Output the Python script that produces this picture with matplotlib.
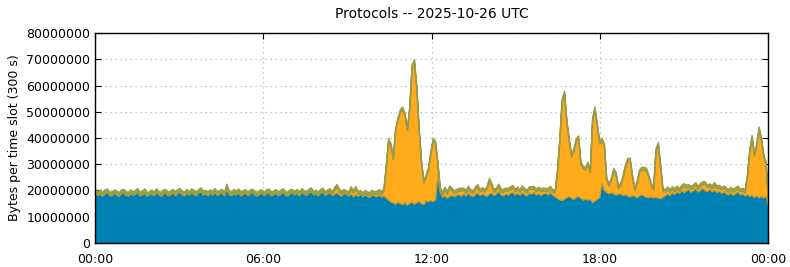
# Protocols stacked area chart (bytes per 300 s slot)
import numpy as np
import matplotlib
matplotlib.use("Agg")
import matplotlib.pyplot as plt

# values in millions of bytes, one row per hour (12 slots of 5 minutes)
blue = [
    [19.2, 18.3, 18.9, 18.0, 18.9, 19.4, 18.3, 18.1, 19.1, 18.6, 17.9, 18.9],
    [19.3, 18.4, 18.0, 19.0, 18.3, 18.8, 19.5, 18.1, 18.6, 19.2, 18.0, 18.5],
    [19.0, 18.2, 19.4, 18.6, 17.9, 18.9, 19.3, 18.1, 18.5, 19.4, 18.2, 19.0],
    [19.6, 18.6, 18.1, 19.2, 18.4, 19.5, 18.7, 18.2, 19.3, 19.7, 18.5, 18.9],
    [18.2, 19.1, 18.5, 19.5, 18.3, 18.9, 19.3, 18.1, 20.8, 18.7, 18.2, 19.1],
    [18.5, 19.3, 18.1, 18.8, 19.2, 18.2, 18.9, 19.5, 18.4, 18.0, 18.8, 19.2],
    [18.2, 19.0, 19.3, 18.1, 18.6, 19.2, 18.2, 18.8, 19.5, 18.4, 18.1, 19.0],
    [19.3, 18.5, 19.1, 18.2, 19.6, 18.7, 18.3, 19.2, 19.7, 18.5, 18.9, 18.2],
    [19.1, 19.6, 18.3, 18.9, 19.4, 18.2, 18.8, 19.3, 18.5, 18.0, 19.1, 18.7],
    [18.1, 18.9, 17.8, 18.6, 18.0, 18.7, 17.8, 18.5, 17.9, 17.6, 18.5, 18.1],
    [17.8, 18.5, 17.6, 18.3, 17.3, 16.5, 15.8, 15.5, 15.0, 15.8, 15.2, 14.8],
    [15.5, 14.6, 15.3, 15.8, 14.9, 15.6, 16.0, 15.2, 14.8, 16.3, 15.9, 16.4],
    [16.0, 16.6, 26.5, 19.5, 17.6, 18.2, 17.3, 17.9, 18.4, 17.8, 18.3, 18.6],
    [18.0, 18.9, 18.1, 19.1, 18.3, 17.8, 18.7, 19.2, 18.2, 18.9, 18.4, 18.0],
    [18.8, 19.3, 18.3, 18.9, 19.8, 18.5, 18.1, 19.0, 18.4, 19.2, 19.4, 18.5],
    [19.1, 18.4, 19.3, 18.6, 18.2, 19.2, 18.8, 19.4, 18.5, 19.0, 18.3, 18.9],
    [19.2, 18.5, 19.4, 18.4, 17.8, 17.2, 16.6, 16.4, 16.9, 17.5, 17.9, 17.3],
    [16.8, 17.6, 17.9, 17.2, 16.4, 17.0, 16.5, 16.8, 15.6, 16.2, 16.9, 17.4],
    [22.9, 20.2, 19.4, 18.9, 19.4, 18.9, 18.4, 18.8, 18.9, 18.3, 18.6, 18.1],
    [17.7, 18.3, 17.9, 17.5, 18.2, 18.6, 18.0, 17.6, 17.5, 17.8, 17.3, 17.6],
    [17.3, 17.1, 17.6, 18.2, 18.9, 18.3, 19.4, 18.7, 19.7, 19.0, 20.3, 19.4],
    [20.0, 20.6, 19.5, 20.2, 20.8, 19.6, 20.3, 21.0, 20.1, 19.8, 20.6, 19.6],
    [20.4, 19.4, 20.0, 19.1, 19.8, 18.9, 18.5, 19.3, 18.3, 19.1, 19.5, 18.6],
    [18.9, 18.1, 18.7, 17.9, 18.4, 17.5, 18.3, 17.3, 17.9, 17.4, 17.9, 14.5],
]
orange = [
    [0.4, 0.3, 0.5, 0.4, 0.3, 0.5, 0.4, 0.3, 0.4, 0.5, 0.3, 0.4],
    [0.5, 0.3, 0.4, 0.4, 0.5, 0.3, 0.4, 0.5, 0.3, 0.4, 0.4, 0.3],
    [0.3, 0.4, 0.5, 0.3, 0.4, 0.5, 0.3, 0.4, 0.4, 0.3, 0.5, 0.4],
    [0.4, 0.5, 0.3, 0.4, 0.3, 0.4, 0.5, 0.4, 0.3, 0.5, 0.4, 0.3],
    [0.4, 0.3, 0.5, 0.4, 0.4, 0.3, 0.5, 0.4, 0.6, 0.4, 0.3, 0.5],
    [0.3, 0.4, 0.4, 0.5, 0.3, 0.4, 0.5, 0.3, 0.4, 0.4, 0.5, 0.3],
    [0.4, 0.5, 0.3, 0.4, 0.5, 0.3, 0.4, 0.4, 0.5, 0.3, 0.4, 0.5],
    [0.3, 0.4, 0.5, 0.4, 0.3, 0.5, 0.4, 0.3, 0.5, 0.4, 0.4, 0.3],
    [0.5, 0.4, 0.3, 0.6, 0.5, 0.4, 1.6, 2.3, 1.2, 0.7, 0.5, 0.4],
    [0.6, 1.8, 1.4, 2.0, 0.8, 0.6, 0.5, 0.7, 0.6, 0.9, 0.7, 0.6],
    [1.0, 1.0, 1.1, 1.8, 11.7, 22.5, 21.2, 16.5, 28.0, 31.2, 34.8, 36.2],
    [33.0, 28.4, 35.7, 51.2, 54.1, 43.4, 27.0, 15.8, 8.2, 8.7, 12.1, 17.6],
    [23.0, 21.4, 3.5, 1.0, 0.9, 2.3, 1.5, 3.0, 1.8, 1.2, 1.2, 1.4],
    [2.0, 1.3, 1.1, 1.6, 1.2, 1.4, 1.8, 2.2, 1.3, 1.5, 1.2, 2.8],
    [5.0, 2.5, 1.2, 1.4, 1.8, 1.1, 1.5, 1.2, 1.6, 1.3, 1.7, 1.2],
    [1.4, 1.2, 1.6, 1.3, 1.1, 1.5, 1.8, 1.3, 1.2, 1.6, 1.4, 1.2],
    [0.8, 1.4, 1.4, 1.1, 1.4, 9.8, 22.4, 37.6, 40.1, 28.5, 21.1, 15.7],
    [18.2, 21.4, 22.1, 12.8, 12.1, 11.0, 13.5, 10.2, 31.4, 34.8, 27.6, 20.6],
    [16.1, 16.8, 4.6, 2.9, 4.6, 8.7, 7.6, 2.2, 3.1, 6.7, 10.4, 13.3],
    [13.8, 6.7, 2.1, 5.5, 8.8, 9.4, 10.0, 10.0, 7.5, 4.2, 3.0, 17.4],
    [20.2, 11.9, 2.4, 1.3, 1.5, 1.3, 1.2, 1.1, 1.2, 1.0, 0.8, 2.3],
    [1.2, 0.9, 1.3, 1.0, 1.4, 1.2, 1.6, 1.5, 2.4, 1.6, 1.1, 1.3],
    [1.8, 1.5, 1.2, 1.4, 1.1, 1.3, 1.0, 1.2, 1.4, 1.1, 1.3, 1.2],
    [1.1, 1.2, 6.4, 17.0, 21.7, 15.9, 18.8, 26.1, 21.2, 15.5, 12.0, 0.8],
]
green = [
    [1.0, 1.1, 0.9, 1.0, 1.2, 0.9, 1.0, 1.1, 0.9, 1.0, 1.1, 1.0],
    [0.9, 1.0, 1.1, 1.0, 0.9, 1.1, 1.0, 0.9, 1.0, 1.2, 1.0, 0.9],
    [1.1, 1.0, 0.9, 1.0, 1.1, 1.0, 0.9, 1.1, 1.0, 0.9, 1.0, 1.1],
    [1.0, 0.9, 1.1, 1.0, 1.0, 0.9, 1.1, 1.0, 0.9, 1.0, 1.1, 1.0],
    [1.1, 1.0, 0.9, 1.0, 1.1, 1.0, 0.9, 1.0, 1.2, 1.0, 0.9, 1.0],
    [1.0, 1.1, 1.0, 0.9, 1.0, 1.1, 1.0, 0.9, 1.0, 1.1, 1.0, 0.9],
    [0.9, 1.0, 1.1, 1.0, 0.9, 1.0, 1.1, 1.0, 0.9, 1.0, 1.1, 1.0],
    [1.0, 0.9, 1.0, 1.1, 1.0, 0.9, 1.0, 1.1, 1.0, 0.9, 1.0, 1.1],
    [1.0, 1.1, 1.0, 0.9, 1.0, 1.1, 1.0, 0.9, 1.0, 1.1, 1.0, 0.9],
    [1.0, 0.9, 1.0, 1.1, 1.0, 0.9, 1.0, 1.0, 1.1, 0.9, 1.0, 1.0],
    [1.0, 1.0, 0.9, 1.0, 1.0, 1.0, 1.0, 1.0, 1.0, 1.0, 1.0, 1.0],
    [1.0, 1.0, 1.0, 1.0, 1.0, 1.0, 1.0, 1.0, 1.0, 1.0, 1.0, 1.0],
    [1.0, 1.0, 1.0, 1.0, 1.0, 1.0, 1.0, 1.0, 1.0, 1.0, 1.0, 1.0],
    [1.0, 0.9, 1.0, 1.1, 1.0, 0.9, 1.0, 1.0, 1.1, 0.9, 1.0, 1.0],
    [1.0, 1.1, 1.0, 0.9, 1.0, 1.1, 1.0, 0.9, 1.0, 1.1, 1.0, 0.9],
    [1.0, 0.9, 1.0, 1.1, 1.0, 0.9, 1.0, 1.1, 1.0, 0.9, 1.0, 1.1],
    [1.0, 1.0, 1.0, 1.0, 1.0, 1.0, 1.0, 1.0, 1.0, 1.0, 1.0, 1.0],
    [1.0, 1.0, 1.0, 1.0, 1.0, 1.0, 1.0, 1.0, 1.0, 1.0, 1.0, 1.0],
    [1.0, 1.0, 1.0, 1.0, 1.0, 1.0, 1.0, 1.0, 1.0, 1.0, 1.0, 1.0],
    [1.0, 1.0, 1.0, 1.0, 1.0, 1.0, 1.0, 1.0, 1.0, 1.0, 1.0, 1.0],
    [1.0, 1.0, 1.0, 1.0, 1.1, 0.9, 1.0, 1.1, 1.0, 0.9, 1.0, 1.1],
    [1.0, 0.9, 1.0, 1.1, 1.0, 0.9, 1.0, 1.1, 1.0, 0.9, 1.0, 1.1],
    [1.0, 1.1, 1.0, 0.9, 1.0, 1.1, 1.0, 0.9, 1.0, 1.1, 1.0, 0.9],
    [1.0, 1.0, 1.0, 1.0, 1.0, 1.0, 1.0, 1.0, 1.0, 1.0, 1.0, 0.7],
]

yticks = [0, 10000000, 20000000, 30000000, 40000000, 50000000, 60000000, 70000000, 80000000]
xticks = [0, 6, 12, 18, 24]
xticklabels = ["00:00", "06:00", "12:00", "18:00", "00:00"]

b = np.array(blue).ravel() * 1e6
o = np.array(orange).ravel() * 1e6
g = np.array(green).ravel() * 1e6
n = len(b)
hours = np.linspace(0, 24, n)

fig = plt.figure(figsize=(7.9, 2.67), dpi=100)
ax = fig.add_axes([0.1203, 0.0899, 0.8519, 0.7865])

polys = ax.stackplot(hours, b, o, g,
                     colors=["#0081b3", "#ffab1c", "#8db43a"],
                     linewidth=1.0)
edges = ["#2a6f8c", "#c09c3c", "#9a9a48"]
for p, ec in zip(polys, edges):
    p.set_edgecolor(ec)

ax.set_xlim(0, 24)
ax.set_ylim(0, 80000000)
ax.set_xticks(xticks)
ax.set_xticklabels(xticklabels)
ax.set_yticks(yticks)
ax.set_yticklabels([str(v) for v in yticks])
ax.tick_params(direction="in", top=True, right=True, length=4, labelsize=9)
ax.tick_params(axis="x", pad=7)
ax.grid(True, linestyle=(0, (1, 3)), color="#b4b4b4", linewidth=0.9)
ax.set_axisbelow(True)
for s in ax.spines.values():
    s.set_linewidth(1.0)

ax.set_ylabel("Bytes per time slot (300 s)", fontsize=9)
ax.set_title("Protocols -- 2025-10-26 UTC", fontsize=10, pad=11)

fig.savefig("out.png", dpi=100)
